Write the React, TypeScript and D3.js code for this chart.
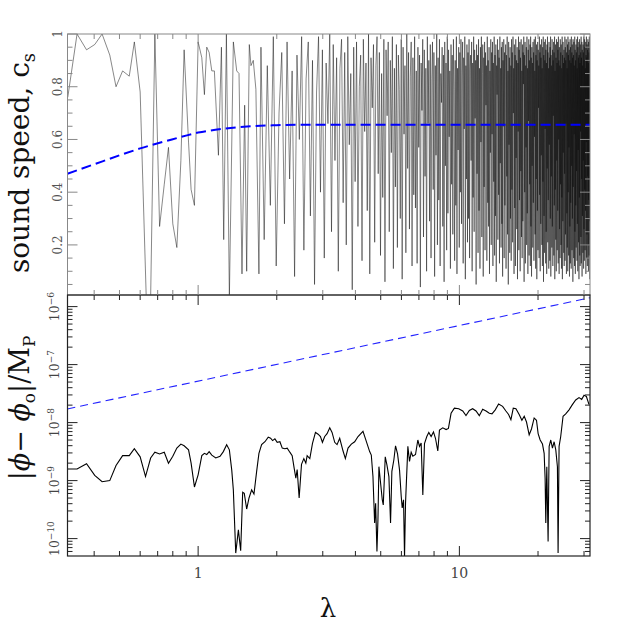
import React, { useEffect, useRef } from 'react';
import * as d3 from 'd3';

// --- top panel: sound speed c_s ---
// sparse part (readable points)
const csHeadLam = [0.317, 0.344, 0.374, 0.402, 0.429, 0.459, 0.485, 0.514, 0.545, 0.570,
  0.600, 0.633, 0.658, 0.683, 0.712, 0.742, 0.770, 0.800, 0.829, 0.859,
  0.884, 0.919, 0.940, 0.968, 1.000, 1.033, 1.057, 1.079, 1.102, 1.128,
  1.154, 1.196, 1.228, 1.253, 1.283, 1.317, 1.364, 1.405, 1.434, 1.472,
  1.507, 1.534, 1.570, 1.593, 1.626, 1.664, 1.709];
const csHeadVal = [0.76, 1.0, 0.94, 0.96, 1.0, 0.92, 0.80, 0.86, 0.84, 0.97,
  0.78, 0.0, 0.0, 1.0, 0.27, 0.43, 0.57, 0.28, 0.19, 0.52,
  0.94, 0.59, 0.41, 0.35, 0.97, 0.91, 0.77, 0.95, 0.93, 0.86,
  0.86, 0.54, 0.95, 0.22, 1.0, 0.0, 0.97, 0.86, 0.85, 0.09,
  0.73, 0.10, 0.96, 0.88, 0.90, 0.79, 0.09];
// dense part, even lambda sampling
const csTailStart = 1.74;
const csTailStep = 0.05;
const csTailVal = [
  .95, .22, .88, .35, .99, .12, .70, .93, .28, .97,
  .45, .86, .08, .92, .60, .99, .18, .83, .97, .31,
  .90, .05, .78, .99, .40, .94, .15, .89, .66, 1.0,
  .25, .96, .52, .91, .10, .87, .98, .36, .93, .20,
  .99, .58, .85, .03, .95, .44, .97, .27, .80, .92,
  .14, .98, .63, .89, .33, 1.0, .09, .91, .72, .96,
  .21, .88, .99, .47, .93, .16, .85, .38, .98, .06,
  .94, .69, .97, .25, .90, .55, .99, .11, .87, .42,
  .96, .19, .92, .79, .30, .98, .07, .95, .62, .88,
  .17, 1.0, .49, .93, .26, .84, .97, .12, .91, .39,
  .99, .34, .86, .13, .95, .57, .92, .04, .89, .71,
  .98, .23, .94, .46, .87, .10, .99, .66, .90, .29,
  .96, .15, .83, .97, .41, .93, .08, .88, .54, 1.0,
  .20, .91, .37, .98, .12, .85, .74, .95, .27, .92,
  .06, .97, .50, .89, .18, .99, .32, .94, .61, .86,
  .11, .96, .43, .92, .24, .98, .79, .14, .90, .35,
  .99, .09, .87, .56, .95, .19, .93, .40, .98, .28,
  .84, .97, .13, .91, .64, .99, .07, .88, .45, .96,
  .21, .93, .30, .98, .15, .86, .92, .52, .97, .10,
  .89, .38, .99, .25, .94, .68, .90, .05, .96, .47,
  .92, .17, .98, .33, .87, .11, .95, .59, .99, .23,
  .85, .96, .08, .91, .42, .97, .18, .93, .73, .88,
  .14, .99, .36, .90, .27, .95, .09, .86, .55, .98,
  .20, .93, .62, .97, .12, .89, .44, .99, .16, .92,
  .31, .96, .06, .88, .77, .98, .22, .94, .39, .91,
  .13, .99, .51, .87, .19, .95, .28, .97, .08, .90,
  .65, .98, .15, .93, .35, .89, .96, .11, .92, .46,
  .99, .24, .86, .05, .97, .58, .91, .17, .95, .30,
  .88, .14, .98, .41, .93, .21, .99, .70, .87, .09,
  .96, .34, .92, .12, .98, .53, .90, .26, .95, .07,
  .89, .63, .99, .18, .94, .37, .97, .10, .91, .48,
  .98, .23, .86, .15, .96, .29, .93, .81, .99, .06,
  .92, .40, .97, .13, .88, .57, .95, .20, .99, .32,
  .87, .09, .94, .67, .98, .16, .90, .43, .96, .12,
  .99, .27, .91, .08, .95, .50, .89, .19, .97, .36,
  .93, .14, .98, .61, .86, .24, .99, .11, .92, .45,
  .96, .07, .90, .33, .97, .18, .94, .72, .88, .15,
  .99, .39, .93, .10, .96, .28, .91, .54, .98, .20,
  .87, .12, .95, .44, .99, .06, .92, .31, .97, .17,
  .90, .64, .98, .13, .94, .25, .89, .09, .96, .49,
  .99, .21, .93, .37, .87, .11, .97, .58, .91, .14,
  .95, .30, .99, .08, .92, .46, .88, .19, .98, .27,
  .94, .12, .90, .69, .97, .16, .93, .35, .99, .07,
  .86, .41, .96, .22, .91, .10, .98, .52, .89, .18,
  .97, .33, .94, .13, .99, .60, .90, .09, .95, .26,
  .88, .15, .98, .43, .93, .20, .96, .11, .87, .38,
  .99, .07, .92, .29, .97, .55, .89, .17, .94, .12,
  .91, .47, .99, .14, .95, .24, .90, .66, .98, .09,
  .93, .32, .87, .19, .96, .10, .99, .40, .92, .16,
  .97, .57, .94, .08, .90, .27, .98, .13, .95, .36,
  .89, .11, .99, .50, .93, .18, .96, .30, .91, .06,
  .98, .42, .92, .15, .97, .62, .88, .12, .99, .25,
  .94, .09, .90, .35, .96, .19, .93, .48, .98, .14,
  .87, .28, .99, .10, .95, .56, .91, .21, .97, .07,
  .92, .38, .98, .16, .89, .12, .96, .63, .93, .23,
  .99, .13, .91, .45, .97, .08, .94, .31, .88, .17,
  .96, .52, .93, .11, .99, .26, .90, .14, .98, .41,
  .95, .18, .87, .33, .97, .09, .92, .59, .99, .15,
  .91, .24, .96, .12, .94, .46, .98, .20, .89, .10,
  .97, .37, .93, .16, .99, .29, .90, .07, .95, .22];

// blue dashed background sound speed
const bgLam = [0.316, 0.398, 0.501, 0.600, 0.794, 1.0, 1.259, 1.585, 1.995, 2.512, 5.0, 31.6];
const bgVal = [0.47, 0.505, 0.54, 0.566, 0.60, 0.626, 0.641, 0.650, 0.654, 0.656, 0.656, 0.656];

// --- bottom panel: |phi - phi_o| / M_P ---
const phiLam = [0.317, 0.344, 0.374, 0.402, 0.429, 0.459, 0.485, 0.514, 0.545, 0.570,
  0.600, 0.629, 0.658, 0.683, 0.712, 0.742, 0.770, 0.800, 0.829, 0.859,
  0.884, 0.919, 0.940, 0.968, 1.000, 1.033, 1.057, 1.079, 1.102, 1.128,
  1.168, 1.213, 1.249, 1.286, 1.317, 1.345, 1.364, 1.393, 1.426, 1.455,
  1.481, 1.502, 1.534, 1.566, 1.603, 1.636, 1.675, 1.709, 1.750, 1.802,
  1.855, 1.894, 1.928, 1.967, 2.008, 2.056, 2.099, 2.148, 2.193, 2.244,
  2.291, 2.332, 2.366, 2.394, 2.436, 2.487, 2.539, 2.584, 2.614, 2.676,
  2.740, 2.813, 2.880, 2.939, 2.991, 3.052, 3.116, 3.190, 3.256, 3.333,
  3.402, 3.483, 3.587, 3.661, 3.748, 3.859, 3.974, 4.093,
  4.276, 4.378, 4.535, 4.601, 4.669, 4.738, 4.780, 4.836, 4.879, 4.921,
  4.980, 5.068, 5.113, 5.203, 5.280, 5.373, 5.452, 5.516, 5.614, 5.697,
  5.799, 5.902, 5.989, 6.042, 6.113, 6.167, 6.221, 6.351, 6.444, 6.539,
  6.636, 6.794, 6.934, 7.037, 7.140, 7.246, 7.353, 7.505, 7.638, 7.796,
  7.959, 8.100, 8.268, 8.390, 8.640, 8.896, 9.080, 9.294, 9.570, 9.942,
  10.30, 10.60, 10.92, 11.24, 11.58, 11.92, 12.28, 12.65, 13.02, 13.33,
  13.72, 14.13, 14.64, 15.07, 15.43, 15.75, 16.08, 16.46, 16.94, 17.35,
  17.71, 18.07, 18.50, 18.88, 19.33, 19.73, 20.02, 20.38, 20.80, 21.11,
  21.29, 21.42, 21.61, 21.86, 22.06, 22.38, 22.71, 23.05, 23.39, 23.73,
  23.87, 24.08, 24.43, 24.94, 25.53, 26.29, 27.07, 27.88, 28.71, 29.39,
  30.01, 30.63, 31.36];
// log10 of |phi - phi_o|/M_P
const phiExp = [-8.80, -8.80, -8.71, -8.91, -9.02, -9.00, -8.74, -8.57, -8.57, -8.45,
  -8.59, -8.93, -8.61, -8.51, -8.54, -8.51, -8.70, -8.58, -8.44, -8.37,
  -8.40, -8.47, -8.70, -9.11, -8.90, -8.57, -8.53, -8.55, -8.50, -8.56,
  -8.61, -8.58, -8.50, -8.38, -8.47, -8.82, -9.16, -10.25, -9.85, -10.21,
  -9.20, -9.22, -9.49, -9.30, -9.16, -9.23, -8.84, -8.53, -8.38, -8.33,
  -8.25, -8.27, -8.31, -8.28, -8.34, -8.33, -8.44, -8.45, -8.44, -8.51,
  -8.57, -8.79, -8.96, -8.81, -9.30, -8.72, -8.62, -8.70, -8.57, -8.62,
  -8.36, -8.17, -8.20, -8.24, -8.34, -8.24, -8.19, -8.09, -8.17, -8.34,
  -8.38, -8.27, -8.49, -8.62, -8.44, -8.37, -8.33, -8.24,
  -8.15, -8.29, -8.50, -8.56, -8.93, -9.73, -9.39, -10.22, -9.67, -8.76,
  -8.99, -9.33, -9.42, -8.59, -8.73, -8.93, -9.73, -8.84, -8.64, -8.40,
  -8.54, -8.82, -9.27, -9.47, -9.33, -10.31, -9.39, -8.41, -8.67, -8.51,
  -8.58, -8.55, -8.30, -8.41, -8.35, -9.25, -8.36, -8.24, -8.17, -8.24,
  -8.16, -8.27, -8.49, -8.13, -8.09, -8.12, -8.10, -7.84, -7.75, -7.76,
  -7.80, -7.88, -7.79, -7.76, -7.80, -7.88, -7.77, -7.80, -7.84, -7.85,
  -7.78, -7.68, -7.72, -7.80, -7.86, -7.95, -7.75, -7.76, -7.86, -7.96,
  -7.89, -7.99, -8.21, -8.11, -7.92, -7.96, -8.19, -8.30, -8.37, -8.53,
  -8.96, -9.73, -8.76, -10.05, -8.41, -8.30, -8.44, -8.33, -8.47, -8.76,
  -10.25, -8.41, -8.24, -7.89, -7.85, -7.78, -7.69, -7.61, -7.57, -7.60,
  -7.53, -7.55, -7.69];

// blue dashed reference line
const refLam = [0.316, 31.6];
const refVal = [1.72e-8, 1.42e-6];

const xLabels = [1, 10];
const csLabels = [0.2, 0.4, 0.6, 0.8, 1];
const phiDecades = [-10, -9, -8, -7, -6];

function App() {
  const svgRef = useRef<SVGSVGElement>(null);

  useEffect(() => {
    const left = 67.5, right = 590, top = 34, mid = 295, bottom = 556;

    const svg = d3.select(svgRef.current);
    svg.selectAll('*').remove();

    const x = d3.scaleLog().domain([10 ** -0.5, 10 ** 1.5]).range([left, right]);
    const yTop = d3.scaleLinear().domain([0.01, 1]).range([mid, top]);
    const yBot = d3.scaleLog().domain([10 ** -10.3, 10 ** -5.8]).range([bottom, mid]);

    const defs = svg.append('defs');
    defs.append('clipPath').attr('id', 'clipTop')
      .append('rect').attr('x', left).attr('y', top).attr('width', right - left).attr('height', mid - top);
    defs.append('clipPath').attr('id', 'clipBot')
      .append('rect').attr('x', left).attr('y', mid).attr('width', right - left).attr('height', bottom - mid);

    // data lines
    const csData: [number, number][] = csHeadLam.map((l, i) => [l, csHeadVal[i]] as [number, number])
      .concat(csTailVal.map((v, i) => [csTailStart + i * csTailStep, v] as [number, number]));

    const lineTop = d3.line<[number, number]>().x(d => x(d[0])).y(d => yTop(d[1]));
    const gTop = svg.append('g').attr('clip-path', 'url(#clipTop)');
    gTop.append('path').datum(csData).attr('d', lineTop)
      .attr('fill', 'none').attr('stroke', '#111').attr('stroke-width', 0.5);

    const bgData = bgLam.map((l, i) => [l, bgVal[i]] as [number, number]);
    gTop.append('path').datum(bgData)
      .attr('d', d3.line<[number, number]>().x(d => x(d[0])).y(d => yTop(d[1])).curve(d3.curveMonotoneX))
      .attr('fill', 'none').attr('stroke', '#0000ff').attr('stroke-width', 2)
      .attr('stroke-dasharray', '10,5');

    const gBot = svg.append('g').attr('clip-path', 'url(#clipBot)');
    const refData = refLam.map((l, i) => [l, refVal[i]] as [number, number]);
    gBot.append('path').datum(refData)
      .attr('d', d3.line<[number, number]>().x(d => x(d[0])).y(d => yBot(d[1])))
      .attr('fill', 'none').attr('stroke', '#2222ff').attr('stroke-width', 1.1)
      .attr('stroke-dasharray', '8,5');

    const phiData = phiLam.map((l, i) => [l, 10 ** phiExp[i]] as [number, number]);
    gBot.append('path').datum(phiData)
      .attr('d', d3.line<[number, number]>().x(d => x(d[0])).y(d => yBot(d[1])))
      .attr('fill', 'none').attr('stroke', '#000').attr('stroke-width', 1.1);

    // frames
    svg.append('rect').attr('x', left).attr('y', top).attr('width', right - left).attr('height', mid - top)
      .attr('fill', 'none').attr('stroke', '#888').attr('stroke-width', 1);
    svg.append('rect').attr('x', left).attr('y', mid).attr('width', right - left).attr('height', bottom - mid)
      .attr('fill', 'none').attr('stroke', '#222').attr('stroke-width', 1.2);

    // x ticks on both panels
    const isDecade = (v: number) => Math.abs(Math.log10(v) - Math.round(Math.log10(v))) < 1e-6;
    const xTicks = x.ticks();
    const drawXTicks = (yEdge: number, dir: number, color: string) => {
      svg.append('g').selectAll('line').data(xTicks).enter().append('line')
        .attr('x1', d => x(d)).attr('x2', d => x(d))
        .attr('y1', yEdge).attr('y2', d => yEdge + dir * (isDecade(d) ? 10 : 5))
        .attr('stroke', color).attr('stroke-width', 1);
    };
    drawXTicks(top, 1, '#888');
    drawXTicks(mid, -1, '#888');
    drawXTicks(mid, 1, '#222');
    drawXTicks(bottom, -1, '#222');

    // top panel y ticks
    const csMinor = d3.range(1, 21).map(i => i * 0.05);
    const isMajorCs = (v: number) => Math.abs(v / 0.2 - Math.round(v / 0.2)) < 1e-6;
    [[left, 1], [right, -1]].forEach(([xe, dir]) => {
      svg.append('g').selectAll('line').data(csMinor).enter().append('line')
        .attr('x1', xe).attr('x2', d => xe + dir * (isMajorCs(d) ? 10 : 5))
        .attr('y1', d => yTop(d)).attr('y2', d => yTop(d))
        .attr('stroke', '#888').attr('stroke-width', 1);
    });

    // bottom panel y ticks
    const yTicks = yBot.ticks();
    [[left, 1], [right, -1]].forEach(([xe, dir]) => {
      svg.append('g').selectAll('line').data(yTicks).enter().append('line')
        .attr('x1', xe).attr('x2', d => xe + dir * (isDecade(d) ? 10 : 5))
        .attr('y1', d => yBot(d)).attr('y2', d => yBot(d))
        .attr('stroke', '#222').attr('stroke-width', 1);
    });

    const tickFont = 'DejaVu Serif, serif';

    // x tick labels
    svg.append('g').selectAll('text').data(xLabels).enter().append('text')
      .attr('x', d => x(d)).attr('y', 578)
      .attr('text-anchor', 'middle').attr('font-family', tickFont).attr('font-size', 14)
      .attr('fill', '#444').text(d => String(d));

    // top y labels (rotated)
    svg.append('g').selectAll('text').data(csLabels).enter().append('text')
      .attr('transform', d => `translate(62,${yTop(d)}) rotate(-90)`)
      .attr('text-anchor', 'middle').attr('font-family', tickFont).attr('font-size', 12)
      .attr('fill', '#555').text(d => String(d));

    // bottom y labels 10^n
    const decLabels = svg.append('g').selectAll('text').data(phiDecades).enter().append('text')
      .attr('transform', d => `translate(59,${yBot(10 ** d)}) rotate(-90)`)
      .attr('text-anchor', 'middle').attr('font-family', tickFont).attr('font-size', 12.5)
      .attr('fill', '#444');
    decLabels.append('tspan').text('10');
    decLabels.append('tspan').attr('dy', -5).attr('font-size', 9).text(d => `\u2212${-d}`);

    // axis titles
    const t1 = svg.append('text')
      .attr('transform', 'translate(29,163) rotate(-90)')
      .attr('text-anchor', 'middle').attr('font-family', 'DejaVu Serif, serif').attr('font-size', 28)
      .attr('fill', '#111');
    t1.append('tspan').text('sound speed, c');
    t1.append('tspan').attr('dy', 6).attr('font-size', 18).text('s');

    const t2 = svg.append('text')
      .attr('transform', 'translate(29,408) rotate(-90)')
      .attr('text-anchor', 'middle').attr('font-family', 'DejaVu Serif, serif').attr('font-size', 27)
      .attr('fill', '#111');
    t2.append('tspan').text('|');
    t2.append('tspan').attr('font-style', 'italic').text('\u03d5');
    t2.append('tspan').text('\u2212  ');
    t2.append('tspan').attr('font-style', 'italic').text('\u03d5');
    t2.append('tspan').attr('dy', 6).attr('font-size', 17).text('o');
    t2.append('tspan').attr('dy', -6).text('|/M');
    t2.append('tspan').attr('dy', 6).attr('font-size', 17).text('P');

    svg.append('text').attr('x', 328).attr('y', 617)
      .attr('text-anchor', 'middle').attr('font-family', 'DejaVu Serif, serif').attr('font-size', 26)
      .attr('fill', '#111').text('\u03bb');
  }, []);

  return (
    <svg ref={svgRef} width={623} height={623}
      style={{ position: 'absolute', left: 0, top: 0, background: '#fff' }} />
  );
}

export default App;
